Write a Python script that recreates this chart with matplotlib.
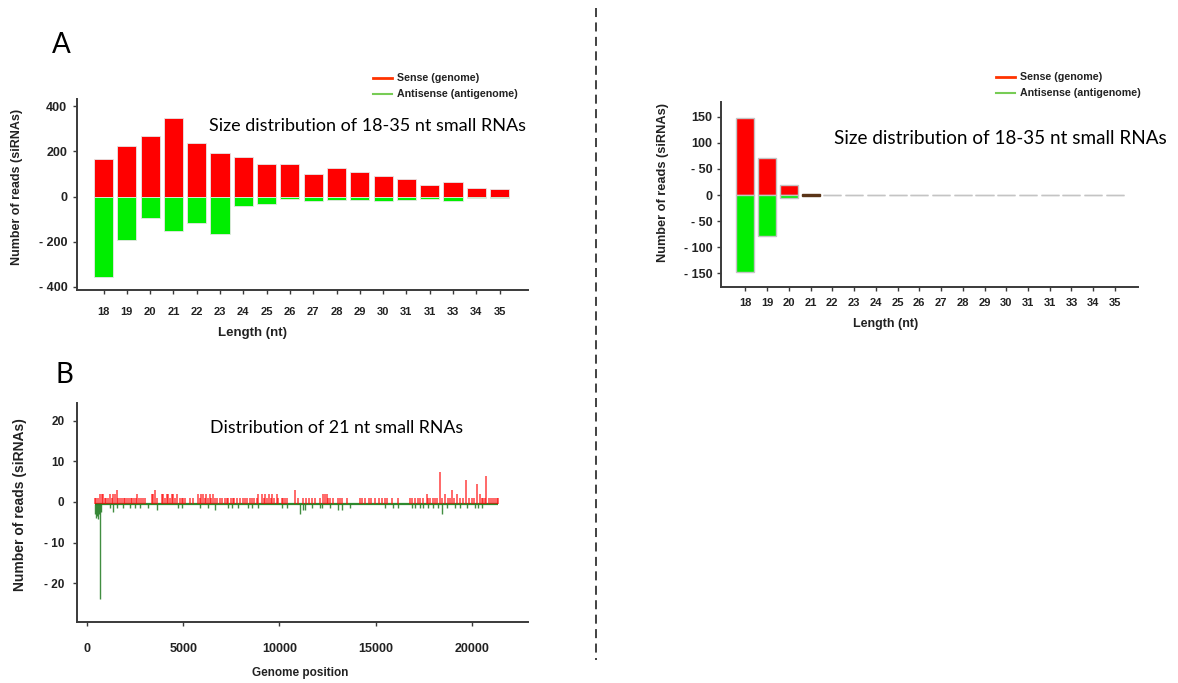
import matplotlib
matplotlib.use('Agg')
import matplotlib.pyplot as plt
from matplotlib.lines import Line2D

plt.rcParams['font.family'] = ['Liberation Sans', 'DejaVu Sans']

W, H = 1178, 683

# ---- size distribution (18-35 nt) ----
lengths = [18, 19, 20, 21, 22, 23, 24, 25, 26, 27, 28, 29, 30, 31, 32, 33, 34, 35]
length_labels = ['18', '19', '20', '21', '22', '23', '24', '25', '26',
                 '27', '28', '29', '30', '31', '31', '33', '34', '35']

# left library
sense_left = [168, 225, 268, 348, 239, 193, 175, 144, 144, 101, 125, 110, 90, 77, 51, 63, 38, 32]
antisense_left = [-358, -191, -94, -155, -119, -165, -44, -33, -11, -20, -16, -14, -20, -16, -13, -20, -8, -8]

# right library
sense_right = [148, 70, 20, 2, 0, 0, 0, 0, 0, 0, 0, 0, 0, 0, 0, 0, 0, 0]
antisense_right = [-148, -79, -6, -1, 0, 0, 0, 0, 0, 0, 0, 0, 0, 0, 0, 0, 0, 0]

yticks_left = [400, 200, 0, -200, -400]
ytick_labels_left = ['400', '200', '0', '- 200', '- 400']
yticks_right = [150, 100, 50, 0, -50, -100, -150]
ytick_labels_right = ['150', '100', '- 50', '0', '- 50', '- 100', '- 150']

# ---- 21 nt reads along the genome ----
red_pos = [420, 490, 580, 680, 760, 850, 930, 1010, 1090, 1200, 1280, 1360, 1460, 1540, 1630,
           1710, 1810, 1900, 1980, 2080, 2170, 2260, 2350, 2430, 2530, 2620, 2720, 2820, 2910,
           3010, 3360, 3450, 3530, 3630, 3880, 3970, 4060, 4140, 4230, 4320, 4400, 4490, 4570,
           4660, 4830, 4910, 4990, 5090, 5350, 5510, 5770, 5860, 5940, 6030, 6110, 6200, 6280,
           6370, 6460, 6550, 6650, 6730, 6910, 7000, 7160, 7250, 7330, 7480, 7570, 7650, 7800,
           7950, 8100, 8190, 8290, 8450, 8550, 8660, 8830, 8890, 9090, 9170, 9260, 9360, 9440,
           9540, 9620, 9710, 9870, 9920, 10110, 10180, 10290, 10370, 10810, 10980, 11230, 11390, 11550,
           11710, 11870, 12110, 12270, 12350, 12470, 12520, 12620, 12780, 13040, 13160, 13250,
           13510, 14180, 14280, 14440, 14650, 14760, 14980, 15190, 15300, 15480, 15590, 15830,
           16150, 16780, 16900, 17030, 17170, 17300, 17440, 17650, 17720, 17840, 17970, 18080,
           18190, 18340, 18450, 18600, 18760, 18870, 18970, 19090, 19200, 19370, 19540, 19700,
           19850, 19980, 20110, 20240, 20420, 20510, 20590, 20680, 20740, 20860, 20970, 21080,
           21180, 21290, 21350]
red_val = [1, 1, 1, 2, 2, 2, 1, 1, 1, 2, 1, 2, 2, 3, 1,
           1, 1, 1, 1, 1, 1, 1, 1, 1, 1, 2, 1, 1, 1,
           1, 2, 2, 3, 1, 2, 2, 1, 2, 2, 1, 2, 2, 1,
           2, 1, 1, 1, 1, 1, 1, 2, 1, 2, 2, 1, 2, 1,
           2, 1, 2, 1, 1, 1, 1, 1, 1, 1, 1, 1, 1, 1,
           1, 1, 1, 1, 1, 1, 1, 1, 2, 2, 1, 2, 1, 2,
           1, 2, 1, 2, 1, 1, 1, 1, 1, 3, 1, 1, 1, 1,
           1, 1, 1, 2, 2, 2, 1, 1, 1, 1, 1, 1,
           1, 1, 1, 1, 1, 1, 1, 1, 1, 1, 1, 1,
           1, 1, 1, 1, 1, 1, 1, 2, 1, 1, 1, 1,
           1, 7.5, 1, 2, 1, 1, 3, 1, 2, 1, 1, 5.4,
           1, 1, 1, 4.4, 2, 1, 1, 1, 6.4, 1, 1, 1,
           1, 1, 1]

green_pos = [420, 470, 530, 580, 630, 680, 740, 1200, 1370, 1540, 1880, 2240, 2500, 2750, 3190,
             3620, 4740, 4910, 5870, 6310, 6650, 7340, 7520, 7860, 8380, 8550, 8900, 10120, 10370,
             11070, 11240, 11330, 11670, 12110, 12190, 12620, 13060, 13230, 13660, 15480, 15920,
             16170, 16870, 17040, 17300, 17470, 17740, 17990, 18250, 18430, 18690, 19120, 19370,
             19730, 20160, 20330, 20510]
green_val = [-3, -4, -3.5, -4.2, -3, -24, -2.5, -1.5, -2.5, -1.5, -1.5, -1.5, -1.5, -1.5, -1.5,
             -2, -1.5, -1.5, -1.5, -1.5, -2, -1.5, -1.5, -1.5, -1.5, -1.5, -1.5, -1.5, -1.5,
             -3, -2, -2, -1.5, -1.5, -1.5, -1.5, -2, -2, -1.5, -1.5, -1.5,
             -1.5, -1.5, -1.5, -1.5, -1.5, -1.5, -1.5, -1.5, -3, -1.5, -1.5, -1.5,
             -1.5, -1.5, -1.5, -1.5]
genome_start, genome_end = 420, 21350
baseline = -0.4

yticks_genome = [20, 10, 0, -10, -20]
ytick_labels_genome = ['20', '10', '0', '- 10', '- 20']
xticks_genome = [0, 5000, 10000, 15000, 20000]

RED = '#ff0000'
GREEN = '#00ee00'
AXIS = '#3a3a3a'
INK = '#222222'
TITLE_FONT = ['Lato', 'DejaVu Sans']

fig = plt.figure(figsize=(W / 100, H / 100), dpi=100)


def axes_px(left, top, right, bottom):
    return fig.add_axes([left / W, 1 - bottom / H, (right - left) / W, (bottom - top) / H])


def text_px(x, y, s, **kw):
    fig.text(x / W, 1 - y / H, s, **kw)


def style(ax, xpad, ypad, xsize, ysize):
    for side in ('top', 'right'):
        ax.spines[side].set_visible(False)
    for side in ('left', 'bottom'):
        ax.spines[side].set_linewidth(1.4)
        ax.spines[side].set_color(AXIS)
    ax.tick_params(direction='out', length=3, width=1, color=AXIS)
    ax.tick_params(axis='x', pad=xpad, labelsize=xsize)
    ax.tick_params(axis='y', pad=ypad, labelsize=ysize)
    for lab in ax.get_xticklabels() + ax.get_yticklabels():
        lab.set_fontweight('bold')
        lab.set_color(INK)


def legend_px(x, y):
    fig.add_artist(Line2D([x / W, (x + 19) / W], [1 - y / H, 1 - y / H], color='#ff3300', lw=2))
    fig.add_artist(Line2D([x / W, (x + 19) / W], [1 - (y + 16) / H, 1 - (y + 16) / H],
                          color='#77cc55', lw=1.5))
    text_px(x + 24, y, 'Sense (genome)', fontsize=7.7, fontweight='bold', va='center', color=INK)
    text_px(x + 24, y + 16, 'Antisense (antigenome)', fontsize=7.7, fontweight='bold',
            va='center', color=INK)


# ---------- A, left ----------
ax1 = axes_px(77, 99, 528, 290)
ax1.bar(lengths, sense_left, width=0.82, color=RED, edgecolor='#e6e6e6', linewidth=0.6)
ax1.bar(lengths, antisense_left, width=0.82, color=GREEN, edgecolor='#e6e6e6', linewidth=0.6)
ax1.set_xlim(16.86, 36.22)
ax1.set_ylim(-415, 433)
ax1.set_xticks(lengths)
ax1.set_xticklabels(length_labels)
ax1.set_yticks(yticks_left)
ax1.set_yticklabels(ytick_labels_left)
style(ax1, xpad=9, ypad=4, xsize=8, ysize=9)
text_px(252, 333, 'Length (nt)', fontsize=9.5, fontweight='bold', ha='center', va='center', color=INK)
text_px(17, 187, 'Number of reads (siRNAs)', fontsize=9, fontweight='bold', rotation=90,
        ha='center', va='center', color=INK)
text_px(209, 126, 'Size distribution of 18-35 nt small RNAs', fontsize=13,
        family=TITLE_FONT, va='center')
legend_px(373, 78)

# ---------- A, right ----------
# empty size classes still get their outline, which shows up as grey dashes on the zero line
edge_right = ['#c4c4c4', '#c4c4c4', '#c4c4c4', '#5a3418'] + ['#c4c4c4'] * 14
ax2 = axes_px(721, 102, 1138, 287)
ax2.bar(lengths, sense_right, width=0.83, color=RED, edgecolor=edge_right, linewidth=1.0)
ax2.bar(lengths, antisense_right, width=0.83, color=GREEN, edgecolor=edge_right, linewidth=1.0)
ax2.set_xlim(16.88, 36.06)
ax2.set_ylim(-176, 178)
ax2.set_xticks(lengths)
ax2.set_xticklabels(length_labels)
ax2.set_yticks(yticks_right)
ax2.set_yticklabels(ytick_labels_right)
style(ax2, xpad=5, ypad=3, xsize=8, ysize=9)
text_px(886, 324, 'Length (nt)', fontsize=9, fontweight='bold', ha='center', va='center', color=INK)
text_px(663, 183, 'Number of reads (siRNAs)', fontsize=9.2, fontweight='bold', rotation=90,
        ha='center', va='center', color=INK)
text_px(834, 139, 'Size distribution of 18-35 nt small RNAs', fontsize=13.6,
        family=TITLE_FONT, va='center')
legend_px(996, 77)

# ---------- B ----------
ax3 = axes_px(77, 403, 528, 622)
ax3.hlines(baseline, genome_start, genome_end, color='#2f8a2f', lw=1.6, zorder=2)
ax3.vlines(red_pos, baseline, red_val, color=RED, lw=1.1, alpha=0.75, zorder=3)
ax3.vlines(green_pos, green_val, baseline, color='#1f7a1f', lw=1.0, alpha=0.85, zorder=3)
ax3.set_xlim(-520, 22910)
ax3.set_ylim(-29.6, 24.4)
ax3.set_xticks(xticks_genome)
ax3.set_xticklabels([str(t) for t in xticks_genome])
ax3.set_yticks(yticks_genome)
ax3.set_yticklabels(ytick_labels_genome)
style(ax3, xpad=12, ypad=6, xsize=9, ysize=8.5)
text_px(300, 673, 'Genome position', fontsize=8.5, fontweight='bold', ha='center', va='center', color=INK)
text_px(20, 505, 'Number of reads (siRNAs)', fontsize=10, fontweight='bold', rotation=90,
        ha='center', va='center', color=INK)
text_px(210, 428, 'Distribution of 21 nt small RNAs', fontsize=12.8,
        family=TITLE_FONT, va='center')

# panel letters
text_px(52, 45, 'A', fontsize=20, family=TITLE_FONT, va='center')
text_px(55, 375, 'B', fontsize=20, family=TITLE_FONT, va='center')

# divider between the two libraries
fig.add_artist(Line2D([596 / W, 596 / W], [1 - 8 / H, 1 - 660 / H], color='#333333',
                      lw=1.3, linestyle=(0, (5, 3))))

fig.savefig('out.png', dpi=100, facecolor='white')
